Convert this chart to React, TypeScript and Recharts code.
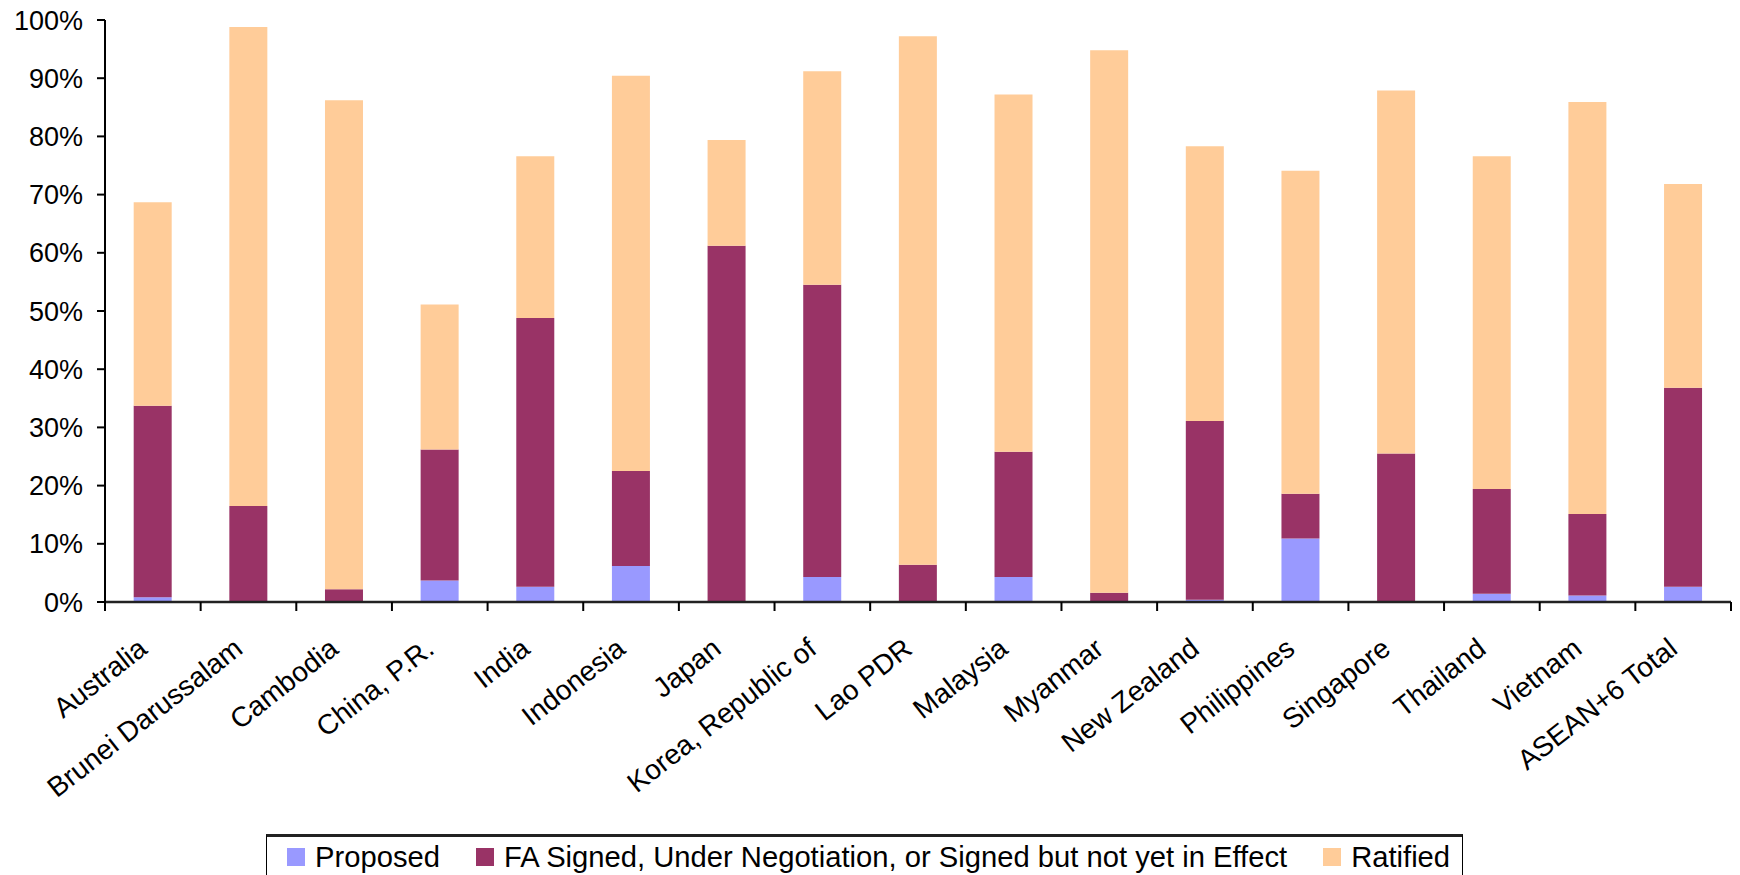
import { BarChart, Bar, XAxis, YAxis } from "recharts";

const CATEGORIES = [
  "Australia",
  "Brunei Darussalam",
  "Cambodia",
  "China, P.R.",
  "India",
  "Indonesia",
  "Japan",
  "Korea, Republic of",
  "Lao PDR",
  "Malaysia",
  "Myanmar",
  "New Zealand",
  "Philippines",
  "Singapore",
  "Thailand",
  "Vietnam",
  "ASEAN+6 Total",
];

// shares in percent, stacked bottom to top
const PROPOSED = [0.8, 0, 0, 3.7, 2.6, 6.2, 0, 4.3, 0, 4.3, 0, 0.4, 10.9, 0, 1.4, 1.1, 2.6];
const FA_SIGNED = [32.9, 16.5, 2.2, 22.5, 46.2, 16.3, 61.2, 50.2, 6.4, 21.5, 1.6, 30.7, 7.7, 25.5, 18.0, 14.0, 34.2];
const RATIFIED = [35.0, 82.3, 84.0, 24.9, 27.8, 67.9, 18.2, 36.7, 90.8, 61.4, 93.2, 47.2, 55.5, 62.4, 57.2, 70.8, 35.0];

const Y_TICKS = [0, 10, 20, 30, 40, 50, 60, 70, 80, 90, 100];

const SERIES = [
  { key: "proposed", name: "Proposed", color: "#9999FF" },
  { key: "faSigned", name: "FA Signed, Under Negotiation, or Signed but not yet in Effect", color: "#993366" },
  { key: "ratified", name: "Ratified", color: "#FFCC99" },
];

const data = CATEGORIES.map((name, i) => ({
  name,
  proposed: PROPOSED[i],
  faSigned: FA_SIGNED[i],
  ratified: RATIFIED[i],
}));

const WIDTH = 1740;
const HEIGHT = 875;
const Y_AXIS_W = 105;
const RIGHT = 9;
const BAND = (WIDTH - Y_AXIS_W - RIGHT) / CATEGORIES.length;
const FONT = "'Liberation Sans', Arial, sans-serif";

// Excel-style category axis: tick marks sit between categories, labels slanted
function CategoryTick(props: any) {
  const { x, y, payload, index } = props;
  const left = x - BAND / 2;
  return (
    <g>
      <line x1={left} y1={y} x2={left} y2={y + 9} stroke="#000" strokeWidth={2} />
      {index === CATEGORIES.length - 1 && (
        <line x1={x + BAND / 2} y1={y} x2={x + BAND / 2} y2={y + 9} stroke="#000" strokeWidth={2} />
      )}
      <text
        transform={`translate(${x - 4},${y + 50}) rotate(-38)`}
        textAnchor="end"
        fontSize={28}
        fontFamily={FONT}
        fill="#000"
      >
        {payload.value}
      </text>
    </g>
  );
}

export default function App() {
  return (
    <div
      style={{
        position: "absolute",
        left: 0,
        top: 0,
        width: WIDTH,
        height: HEIGHT,
        background: "#fff",
        overflow: "hidden",
      }}
    >
      <BarChart
        width={WIDTH}
        height={HEIGHT}
        data={data}
        margin={{ top: 20, right: RIGHT, left: 0, bottom: 0 }}
        barCategoryGap="30%"
      >
        <XAxis
          dataKey="name"
          interval={0}
          height={273}
          tickSize={0}
          tickMargin={0}
          tickLine={false}
          axisLine={{ stroke: "#222", strokeWidth: 2.5 }}
          tick={<CategoryTick />}
        />
        <YAxis
          width={Y_AXIS_W}
          domain={[0, 100]}
          ticks={Y_TICKS}
          interval={0}
          tickFormatter={(v: number) => `${v}%`}
          tickSize={8}
          tickMargin={14}
          axisLine={{ stroke: "#000", strokeWidth: 2 }}
          tickLine={{ stroke: "#000", strokeWidth: 2 }}
          tick={{ fontSize: 27, fill: "#000", fontFamily: FONT }}
        />
        {SERIES.map((s) => (
          <Bar
            key={s.key}
            dataKey={s.key}
            name={s.name}
            stackId="share"
            fill={s.color}
            isAnimationActive={false}
          />
        ))}
      </BarChart>

      <div
        style={{
          position: "absolute",
          left: 266,
          top: 834,
          width: 1197,
          height: 60,
          boxSizing: "border-box",
          border: "1px solid #000",
          borderTop: "3px solid #222",
          display: "flex",
          alignItems: "flex-start",
          paddingTop: 7,
          paddingLeft: 20,
          fontFamily: FONT,
          fontSize: 29.2,
          lineHeight: "26px",
          color: "#000",
          whiteSpace: "nowrap",
        }}
      >
        {SERIES.map((s, i) => (
          <div
            key={s.key}
            style={{ display: "flex", alignItems: "center", marginLeft: i === 0 ? 0 : 36 }}
          >
            <span
              style={{ display: "inline-block", width: 18, height: 18, background: s.color, marginRight: 10 }}
            />
            <span>{s.name}</span>
          </div>
        ))}
      </div>
    </div>
  );
}
